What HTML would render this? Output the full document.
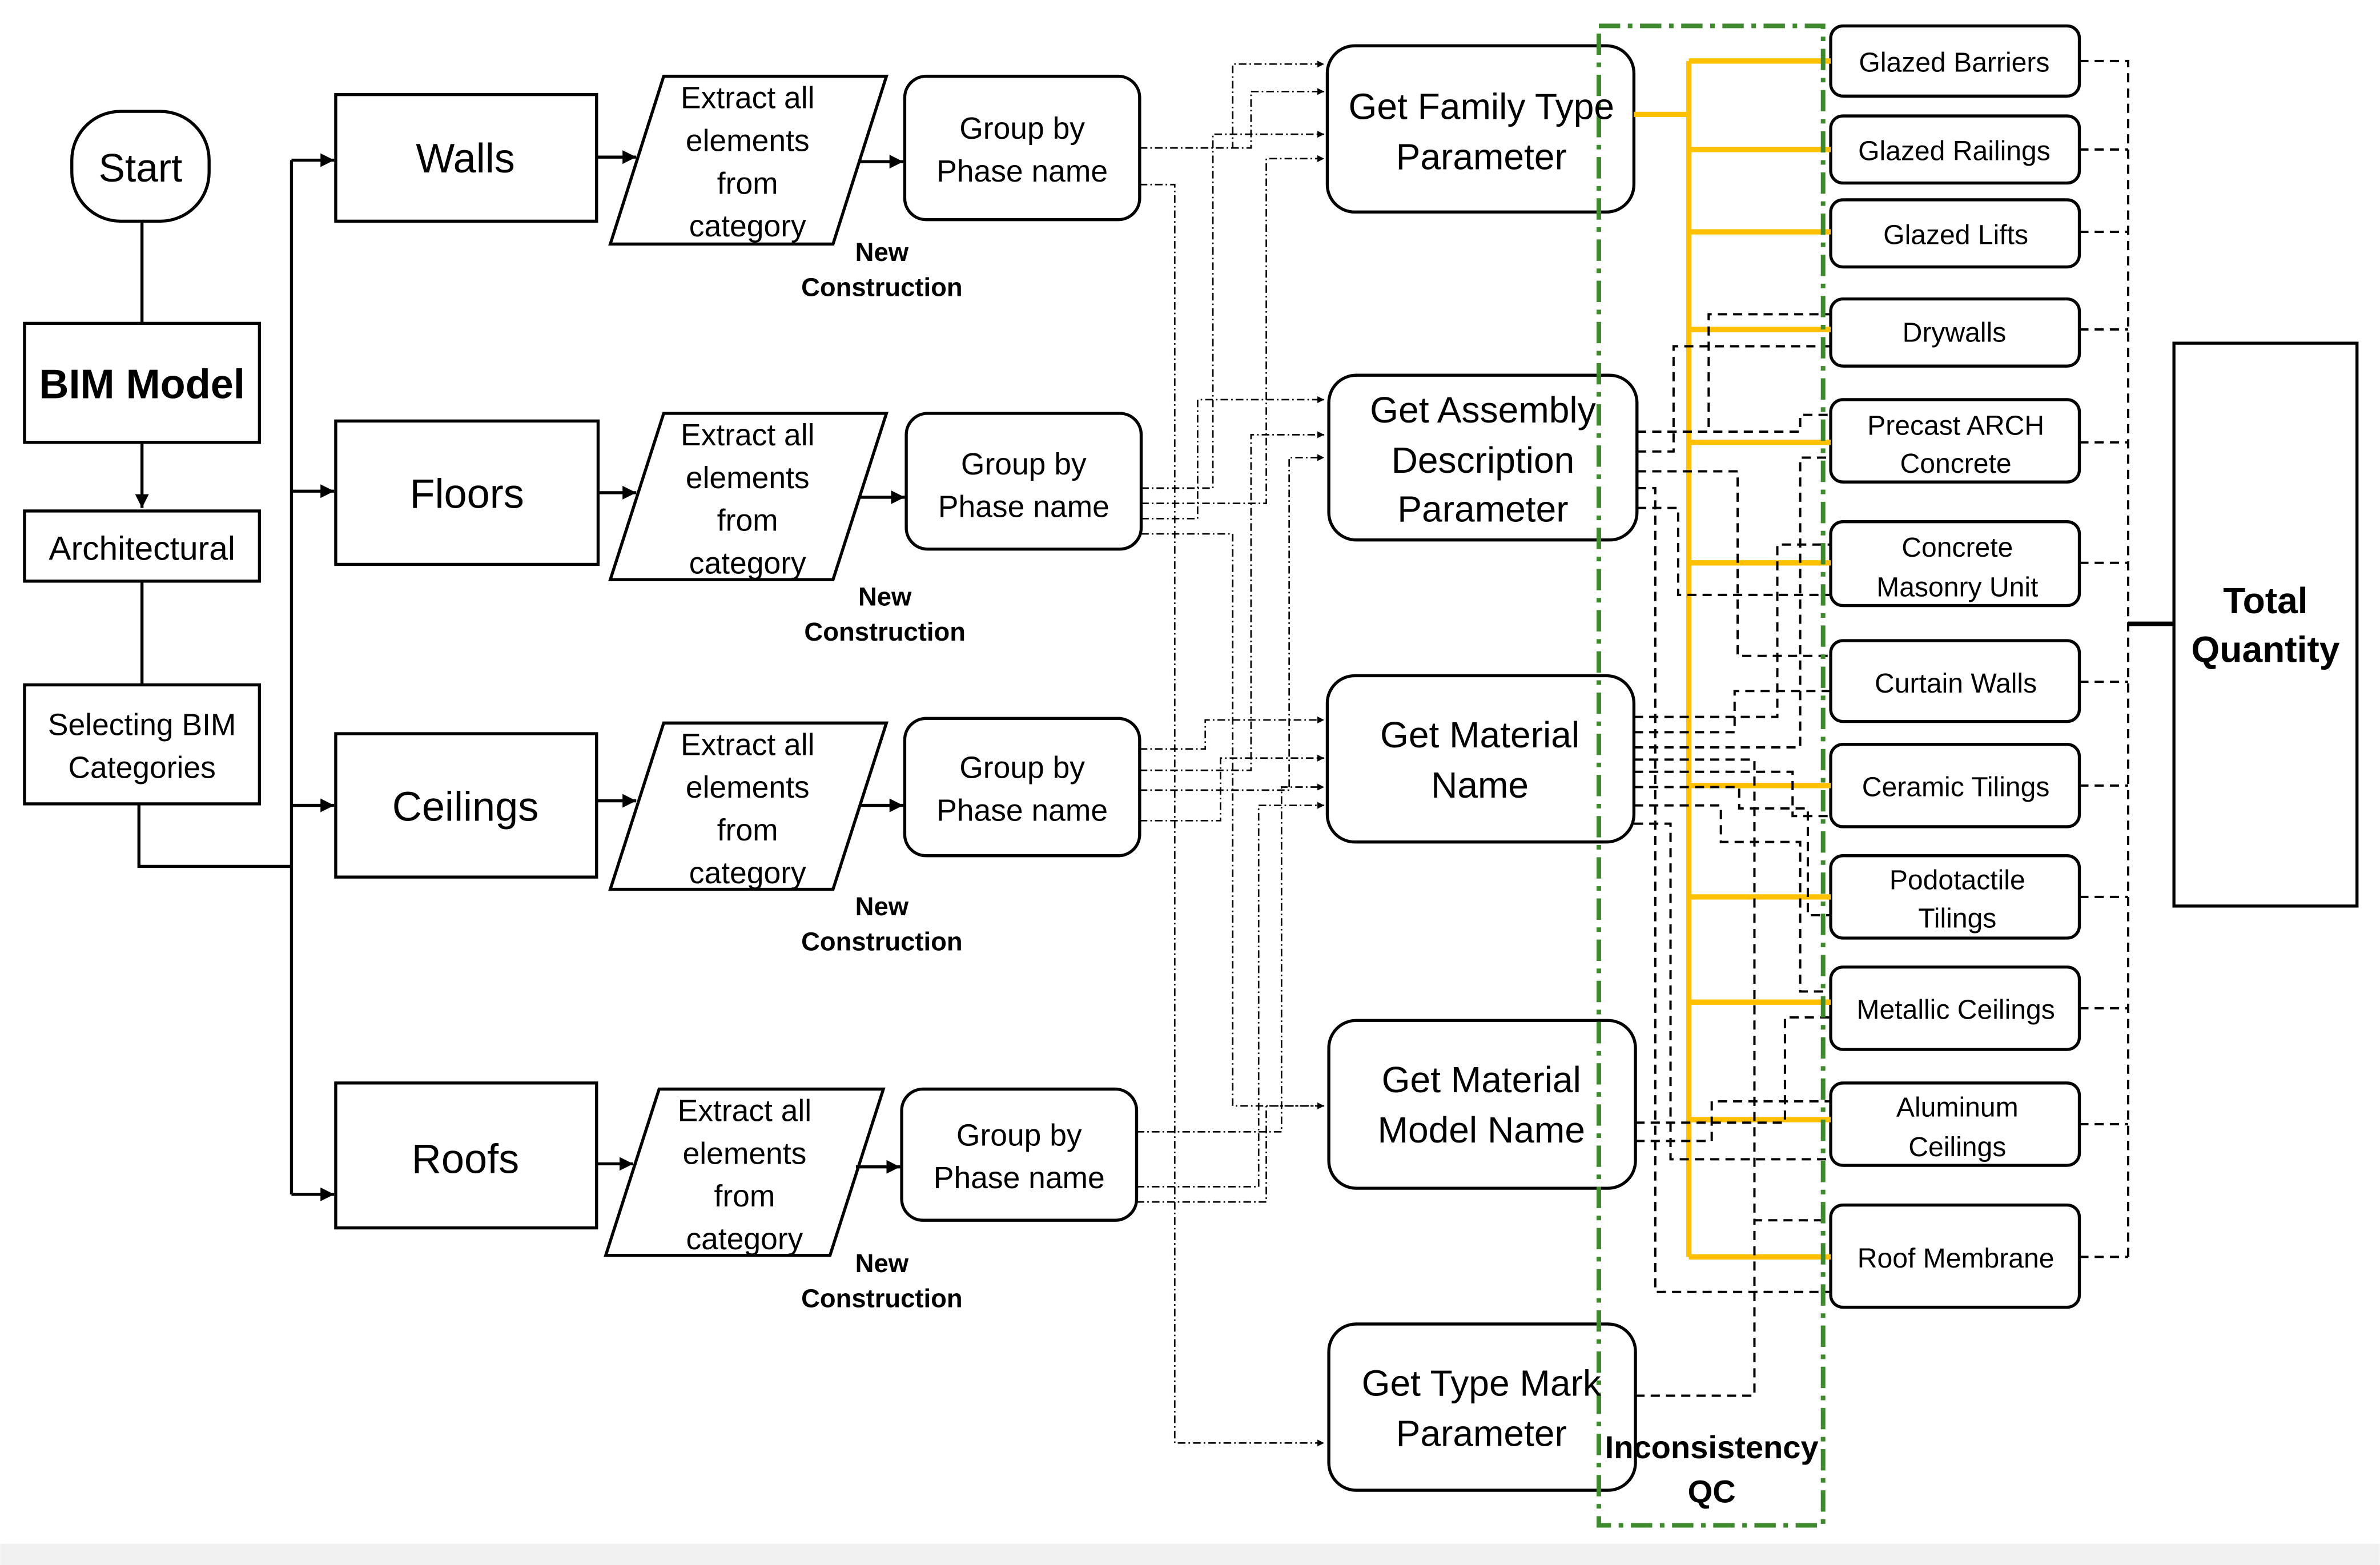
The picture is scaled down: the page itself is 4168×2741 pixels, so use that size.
<!DOCTYPE html>
<html><head><meta charset="utf-8"><style>
html,body{margin:0;padding:0;background:#fff;}
svg{display:block;}
text{font-family:"Liberation Sans",Arial,sans-serif;fill:#000;}
</style></head><body>
<svg width="4168" height="2741" viewBox="0 0 1560 1026" xmlns="http://www.w3.org/2000/svg">
<defs>
<marker id="a" viewBox="0 0 10 10" refX="10" refY="5" markerWidth="4.5" markerHeight="4.5" orient="auto"><path d="M0,0L10,5L0,10z" fill="#000"/></marker>
</defs>
<rect x="0" y="0" width="1560" height="1026" fill="#fff"/>
<rect x="0" y="1012" width="1560" height="14" fill="#f0f0f0"/>

<!-- left column -->
<g fill="none" stroke="#000" stroke-width="2">
<rect x="47" y="73" width="90" height="72" rx="32"/>
<rect x="16" y="212" width="154" height="78"/>
<rect x="16" y="335" width="154" height="46"/>
<rect x="16" y="449" width="154" height="78"/>
<line x1="93" y1="145" x2="93" y2="212"/>
<line x1="93" y1="290" x2="93" y2="333" marker-end="url(#a)"/>
<line x1="93" y1="381" x2="93" y2="449"/>
<polyline points="91,527 91,568 191,568"/>
<line x1="191" y1="105" x2="191" y2="783"/>
<line x1="191" y1="105" x2="219" y2="105" marker-end="url(#a)"/>
<line x1="191" y1="322" x2="219" y2="322" marker-end="url(#a)"/>
<line x1="191" y1="528" x2="219" y2="528" marker-end="url(#a)"/>
<line x1="191" y1="783" x2="219" y2="783" marker-end="url(#a)"/>
<!-- category boxes -->
<rect x="220" y="62" width="171" height="83"/>
<rect x="220" y="276" width="172" height="94"/>
<rect x="220" y="481" width="171" height="94"/>
<rect x="220" y="710" width="171" height="95"/>
<!-- parallelograms -->
<polygon points="435,50 581,50 546,160 400,160"/>
<polygon points="435,271 581,271 546,380 400,380"/>
<polygon points="435,474 581,474 546,583 400,583"/>
<polygon points="432,714 579,714 544,823 397,823"/>
<line x1="391" y1="103" x2="417" y2="103" marker-end="url(#a)"/>
<line x1="392" y1="323" x2="417" y2="323" marker-end="url(#a)"/>
<line x1="391" y1="525" x2="417" y2="525" marker-end="url(#a)"/>
<line x1="391" y1="763" x2="415" y2="763" marker-end="url(#a)"/>
<line x1="563" y1="106" x2="592" y2="106" marker-end="url(#a)"/>
<line x1="563" y1="326" x2="593" y2="326" marker-end="url(#a)"/>
<line x1="563" y1="528" x2="592" y2="528" marker-end="url(#a)"/>
<line x1="561" y1="765" x2="590" y2="765" marker-end="url(#a)"/>
<!-- group boxes -->
<rect x="593" y="50" width="154" height="94" rx="14"/>
<rect x="594" y="271" width="154" height="89" rx="14"/>
<rect x="593" y="471" width="154" height="90" rx="14"/>
<rect x="591" y="714" width="154" height="86" rx="14"/>
<!-- get boxes -->
<rect x="870" y="30" width="201" height="109" rx="18"/>
<rect x="871" y="246" width="202" height="108" rx="18"/>
<rect x="870" y="443" width="201" height="109" rx="18"/>
<rect x="871" y="669" width="201" height="110" rx="18"/>
<rect x="871" y="868" width="201" height="109" rx="18"/>
<!-- right boxes -->
<rect x="1200" y="17" width="163" height="46" rx="8"/>
<rect x="1200" y="76" width="163" height="44" rx="8"/>
<rect x="1200" y="131" width="163" height="44" rx="8"/>
<rect x="1200" y="196" width="163" height="44" rx="8"/>
<rect x="1200" y="262" width="163" height="54" rx="8"/>
<rect x="1200" y="342" width="163" height="55" rx="8"/>
<rect x="1200" y="420" width="163" height="53" rx="8"/>
<rect x="1200" y="488" width="163" height="54" rx="8"/>
<rect x="1200" y="561" width="163" height="54" rx="8"/>
<rect x="1200" y="634" width="163" height="54" rx="8"/>
<rect x="1200" y="710" width="163" height="54" rx="8"/>
<rect x="1200" y="790" width="163" height="67" rx="8"/>
<rect x="1425" y="225" width="120" height="369"/>
<line x1="1395" y1="409" x2="1425" y2="409" stroke-width="3"/>
</g>

<!-- dash-dot connectors group -> get -->
<g fill="none" stroke="#000" stroke-width="1" stroke-dasharray="5,2,1,2">
<polyline points="747,97 808,97 808,42 868,42" marker-end="url(#a)"/>
<polyline points="747,97 820,97 820,60 868,60" marker-end="url(#a)"/>
<polyline points="747,121 770,121 770,946 868,946" marker-end="url(#a)"/>
<polyline points="748,320 795,320 795,88 868,88" marker-end="url(#a)"/>
<polyline points="748,330 830,330 830,104 868,104" marker-end="url(#a)"/>
<polyline points="748,340 785,340 785,262 868,262" marker-end="url(#a)"/>
<polyline points="748,350 808,350 808,725 868,725" marker-end="url(#a)"/>
<polyline points="747,491 790,491 790,472 868,472" marker-end="url(#a)"/>
<polyline points="747,505 820,505 820,285 868,285" marker-end="url(#a)"/>
<polyline points="747,518 845,518 845,300 868,300" marker-end="url(#a)"/>
<polyline points="747,538 800,538 800,497 868,497" marker-end="url(#a)"/>
<polyline points="745,742 840,742 840,516 868,516" marker-end="url(#a)"/>
<polyline points="745,778 825,778 825,528 868,528" marker-end="url(#a)"/>
<polyline points="745,788 830,788 830,725 868,725"/>
</g>

<!-- yellow -->
<g fill="none" stroke="#FFC000" stroke-width="3.5">
<polyline points="1071,75 1107,75"/>
<line x1="1107" y1="40" x2="1107" y2="824"/>
<line x1="1107" y1="40" x2="1200" y2="40"/>
<line x1="1107" y1="98" x2="1200" y2="98"/>
<line x1="1107" y1="152" x2="1200" y2="152"/>
<line x1="1107" y1="216" x2="1200" y2="216"/>
<line x1="1107" y1="290" x2="1200" y2="290"/>
<line x1="1107" y1="369" x2="1200" y2="369"/>
<line x1="1107" y1="515" x2="1200" y2="515"/>
<line x1="1107" y1="588" x2="1200" y2="588"/>
<line x1="1107" y1="657" x2="1200" y2="657"/>
<line x1="1107" y1="734" x2="1200" y2="734"/>
<line x1="1107" y1="824" x2="1200" y2="824"/>
</g>

<!-- black dashed -->
<g fill="none" stroke="#000" stroke-width="1.5" stroke-dasharray="6,4">
<polyline points="1073,283 1120,283 1120,206 1200,206"/>
<polyline points="1073,296 1097,296 1097,227 1200,227"/>
<polyline points="1073,283 1180,283 1180,272 1200,272"/>
<polyline points="1073,309 1139,309 1139,430 1200,430"/>
<polyline points="1073,320 1085,320 1085,847 1200,847"/>
<polyline points="1073,333 1100,333 1100,390 1200,390"/>
<polyline points="1071,470 1165,470 1165,357 1200,357"/>
<polyline points="1071,480 1137,480 1137,453 1200,453"/>
<polyline points="1071,490 1180,490 1180,300 1200,300"/>
<polyline points="1071,498 1150,498 1150,800 1200,800"/>
<polyline points="1071,506 1175,506 1175,535 1200,535"/>
<polyline points="1071,516 1140,516 1140,530 1185,530 1185,600 1200,600"/>
<polyline points="1071,528 1128,528 1128,552 1180,552 1180,650 1200,650"/>
<polyline points="1071,540 1095,540 1095,760 1200,760"/>
<polyline points="1072,748 1122,748 1122,722 1200,722"/>
<polyline points="1072,736 1170,736 1170,667 1200,667"/>
<polyline points="1072,915 1150,915 1150,800"/>
<polyline points="1363,40 1395,40 1395,824"/>
<line x1="1363" y1="98" x2="1395" y2="98"/>
<line x1="1363" y1="152" x2="1395" y2="152"/>
<line x1="1363" y1="216" x2="1395" y2="216"/>
<line x1="1363" y1="290" x2="1395" y2="290"/>
<line x1="1363" y1="369" x2="1395" y2="369"/>
<line x1="1363" y1="447" x2="1395" y2="447"/>
<line x1="1363" y1="515" x2="1395" y2="515"/>
<line x1="1363" y1="588" x2="1395" y2="588"/>
<line x1="1363" y1="661" x2="1395" y2="661"/>
<line x1="1363" y1="737" x2="1395" y2="737"/>
<line x1="1363" y1="824" x2="1395" y2="824"/>
</g>

<!-- green dash-dot -->
<rect x="1048" y="17" width="147" height="983" fill="none" stroke="#3f8a2e" stroke-width="3" stroke-dasharray="14,5,3,5"/>

<!-- texts -->
<g text-anchor="middle">
<text x="92" y="119" font-size="26">Start</text>
<text x="93" y="261" font-size="27" font-weight="bold">BIM Model</text>
<text x="93" y="367" font-size="22">Architectural</text>
<text x="93" y="482" font-size="20">Selecting BIM</text>
<text x="93" y="510" font-size="20">Categories</text>
<text x="305" y="113" font-size="27">Walls</text>
<text x="306" y="333" font-size="27">Floors</text>
<text x="305" y="538" font-size="27">Ceilings</text>
<text x="305" y="769" font-size="27">Roofs</text>
<g font-size="20">
<text x="490" y="71">Extract all</text><text x="490" y="99">elements</text><text x="490" y="127">from</text><text x="490" y="155">category</text>
<text x="490" y="292">Extract all</text><text x="490" y="320">elements</text><text x="490" y="348">from</text><text x="490" y="376">category</text>
<text x="490" y="495">Extract all</text><text x="490" y="523">elements</text><text x="490" y="551">from</text><text x="490" y="579">category</text>
<text x="488" y="735">Extract all</text><text x="488" y="763">elements</text><text x="488" y="791">from</text><text x="488" y="819">category</text>
<text x="670" y="91">Group by</text><text x="670" y="119">Phase name</text>
<text x="671" y="311">Group by</text><text x="671" y="339">Phase name</text>
<text x="670" y="510">Group by</text><text x="670" y="538">Phase name</text>
<text x="668" y="751">Group by</text><text x="668" y="779">Phase name</text>
</g>
<g font-size="17" font-weight="bold">
<text x="578" y="171">New</text><text x="578" y="194">Construction</text>
<text x="580" y="397">New</text><text x="580" y="420">Construction</text>
<text x="578" y="600">New</text><text x="578" y="623">Construction</text>
<text x="578" y="834">New</text><text x="578" y="857">Construction</text>
</g>
<g font-size="24">
<text x="971" y="78">Get Family Type</text><text x="971" y="111">Parameter</text>
<text x="972" y="277">Get Assembly</text><text x="972" y="310">Description</text><text x="972" y="342">Parameter</text>
<text x="970" y="490">Get Material</text><text x="970" y="523">Name</text>
<text x="971" y="716">Get Material</text><text x="971" y="749">Model Name</text>
<text x="971" y="915">Get Type Mark</text><text x="971" y="948">Parameter</text>
</g>
<g font-size="18">
<text x="1281" y="47">Glazed Barriers</text>
<text x="1281" y="105">Glazed Railings</text>
<text x="1282" y="160">Glazed Lifts</text>
<text x="1281" y="224">Drywalls</text>
<text x="1282" y="285">Precast ARCH</text><text x="1282" y="310">Concrete</text>
<text x="1283" y="365">Concrete</text><text x="1283" y="391">Masonry Unit</text>
<text x="1282" y="454">Curtain Walls</text>
<text x="1282" y="522">Ceramic Tilings</text>
<text x="1283" y="583">Podotactile</text><text x="1283" y="608">Tilings</text>
<text x="1282" y="668">Metallic Ceilings</text>
<text x="1283" y="732">Aluminum</text><text x="1283" y="758">Ceilings</text>
<text x="1282" y="831">Roof Membrane</text>
</g>
<text x="1485" y="402" font-size="24" font-weight="bold">Total</text>
<text x="1485" y="434" font-size="24" font-weight="bold">Quantity</text>
<text x="1122" y="956" font-size="21" font-weight="bold">Inconsistency</text>
<text x="1122" y="985" font-size="21" font-weight="bold">QC</text>
</g>
</svg>
</body></html>
